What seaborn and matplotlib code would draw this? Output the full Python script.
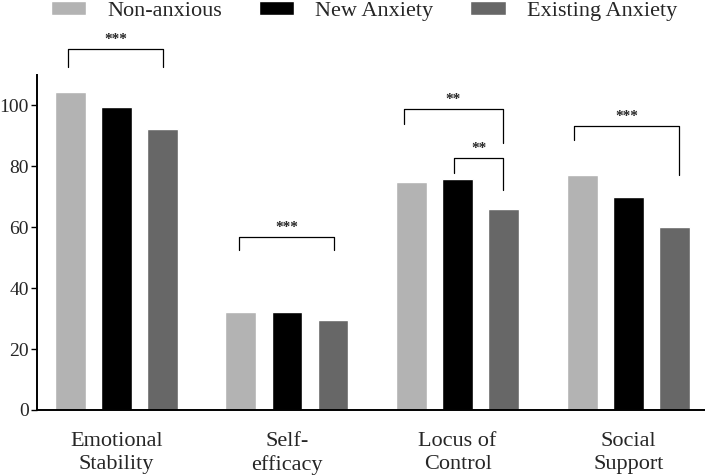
import pandas as pd
import matplotlib.pyplot as plt
import seaborn as sns

categories = ["Emotional\nStability", "Self-\nefficacy", "Locus of\nControl", "Social\nSupport"]
groups = ["Non-anxious", "New Anxiety", "Existing Anxiety"]
non_anxious = [104.3, 32.2, 75.0, 77.2]
new_anxiety = [99.4, 32.1, 76.0, 70.0]
existing_anxiety = [92.4, 29.7, 66.0, 60.1]
colors = ["#b3b3b3", "#000000", "#676767"]

# significance brackets: (group index, x from, x to, top, left leg end, right leg end, label)
brackets = [
    (0, -0.285, 0.275, 118.4, 112.5, 112.5, "***"),
    (1, -0.28, 0.275, 56.9, 52.6, 52.6, "***"),
    (2, -0.315, 0.265, 98.7, 94.0, 87.6, "**"),
    (2, -0.02, 0.265, 82.9, 77.7, 72.4, "**"),
    (3, -0.315, 0.3, 93.4, 88.8, 77.3, "***"),
]

rows = []
for i, cat in enumerate(categories):
    for g, vals in zip(groups, [non_anxious, new_anxiety, existing_anxiety]):
        rows.append({"category": cat, "group": g, "value": vals[i]})
df = pd.DataFrame(rows)

sns.set_style("ticks")
plt.rcParams["font.family"] = ["Liberation Serif", "DejaVu Serif"]

fig = plt.figure(figsize=(7.05, 4.75), dpi=100)
ax = fig.add_axes([0.0525, 0.137, 0.9475, 0.705])
sns.barplot(data=df, x="category", y="value", hue="group", palette=colors,
            width=0.81, gap=0.33, saturation=1, errorbar=None, ax=ax)

ax.set_ylim(0, 110)
ax.set_xlim(-0.465, 3.45)
ax.set_yticks([0, 20, 40, 60, 80, 100])
ax.set_xlabel("")
ax.set_ylabel("")
ax.tick_params(axis="y", labelsize=14, length=4, width=1, color="black", pad=2)
ax.tick_params(axis="x", labelsize=16, length=0, pad=16)
for lbl in ax.get_xticklabels():
    lbl.set_linespacing(1.25)
sns.despine(ax=ax)
for s in ["left", "bottom"]:
    ax.spines[s].set_color("black")
    ax.spines[s].set_linewidth(1.4)

for gi, x0, x1, top, l_end, r_end, lab in brackets:
    xs = [gi + x0, gi + x0, gi + x1, gi + x1]
    ys = [l_end, top, top, r_end]
    ax.plot(xs, ys, color="black", lw=0.9, clip_on=False)
    ax.text(gi + (x0 + x1) / 2, top + 1.0, lab, ha="center", va="bottom",
            fontsize=11, fontweight="bold", clip_on=False)

ax.legend(loc="center", ncol=3, frameon=False, fontsize=16,
          handlelength=1.6, handleheight=0.58, columnspacing=1.65,
          handletextpad=0.95, borderaxespad=0, borderpad=0)
leg = ax.get_legend()
leg.set_bbox_to_anchor((0.516, 0.977), transform=fig.transFigure)

fig.savefig("out.png", dpi=100)
